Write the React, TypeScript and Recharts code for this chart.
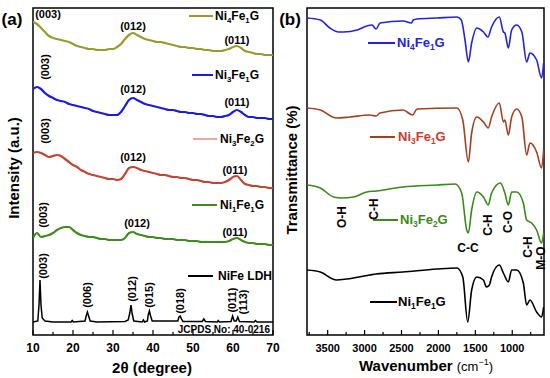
import { LineChart, Line, XAxis, YAxis, ReferenceArea } from "recharts";

const FONT = "'Liberation Sans', Arial, sans-serif";

// ---- (a) XRD ----
const xrdAngles = [
  10, 11, 12, 13, 14, 15, 16, 17, 18, 19, 20, 21, 22, 23, 24, 25, 26, 27, 28, 29, 30,
  31, 32, 33, 34, 35, 36, 37, 38, 39, 40, 41, 42, 43, 44, 45, 46, 47, 48, 49, 50,
  51, 52, 53, 54, 55, 56, 57, 58, 59, 60, 61, 62, 63, 64, 65, 66, 67, 68, 69, 70,
];
const ni4fe1gXrd = [
  313, 311, 307, 303, 299, 297, 296, 295, 294, 293, 291, 289, 288, 287, 286, 286, 285, 285, 285, 286, 286,
  288, 291, 296, 300, 302, 300, 298, 296, 295, 294, 293, 293, 292, 291, 290, 289, 288, 288, 287, 287,
  286, 286, 285, 285, 284, 284, 284, 285, 286, 288, 289, 287, 284, 283, 282, 281, 281, 280, 280, 280,
];
const ni3fe1gXrd = [
  246, 248, 246, 242, 239, 237, 235, 234, 233, 231, 230, 229, 228, 227, 226, 224, 223, 222, 221, 220, 220,
  220, 223, 229, 235, 237, 235, 233, 231, 230, 229, 228, 227, 226, 225, 225, 224, 223, 223, 222, 222,
  221, 221, 220, 219, 219, 218, 218, 219, 220, 223, 225, 223, 220, 218, 218, 217, 217, 217, 216, 216,
];
const ni3fe2gXrd = [
  182, 183, 182, 180, 178, 179, 180, 179, 176, 173, 170, 168, 165, 163, 161, 160, 159, 158, 157, 156, 156,
  155, 156, 161, 167, 168, 167, 165, 164, 163, 162, 161, 160, 160, 159, 158, 158, 157, 157, 156, 155,
  155, 154, 153, 153, 152, 152, 152, 153, 155, 158, 159, 155, 151, 150, 149, 149, 148, 148, 147, 147,
];
const ni1fe1gXrd = [
  97, 102, 98, 99, 100, 102, 105, 107, 108, 108, 105, 102, 100, 99, 98, 98, 97, 96, 96, 95, 95,
  95, 95, 97, 102, 103, 101, 100, 99, 98, 98, 97, 97, 96, 96, 96, 95, 95, 95, 94, 94,
  94, 93, 93, 93, 93, 93, 93, 93, 94, 96, 97, 95, 93, 92, 92, 91, 91, 91, 90, 90,
];
const nifeLdhXrd: [number, number][] = [
  [10, 13], [11.2, 14], [11.5, 30], [11.75, 55], [12.0, 30], [12.3, 17], [13, 14], [15, 13],
  [19.5, 13], [19.8, 14.5], [20.1, 13], [23, 14], [23.3, 19], [23.6, 23], [23.9, 19], [24.3, 14],
  [26, 13], [33, 13.5], [33.8, 15], [34.2, 22], [34.5, 30], [34.8, 21], [35.2, 14], [37.3, 13],
  [37.6, 15], [37.9, 13], [38.6, 14], [38.8, 20], [39.1, 24], [39.4, 19], [39.8, 14], [46.2, 14],
  [46.5, 18], [46.8, 19], [47.1, 16], [47.5, 13.5], [52.3, 13.5], [52.7, 16], [53.1, 13.5],
  [56.1, 13], [56.3, 14.5], [56.6, 13], [59.5, 13.5], [59.9, 19], [60.3, 14], [60.8, 14],
  [61.2, 18], [61.6, 13.5], [65.3, 13], [65.6, 14.5], [66, 13], [70, 13],
];
const xrdTicks = [10, 15, 20, 25, 30, 35, 40, 45, 50, 55, 60, 65, 70];

// ---- (b) FTIR ----
const ni4fe1gFtir: [number, number][] = [
  [3780, 317], [3600, 315], [3470, 307], [3350, 303], [3290, 303], [3100, 305], [2970, 309],
  [2900, 310], [2845, 306], [2790, 312], [2480, 314], [2365, 312], [2340, 315], [2290, 316],
  [2020, 317], [1750, 318], [1690, 315], [1640, 295], [1595, 273], [1550, 292], [1480, 307],
  [1390, 303], [1330, 298], [1280, 308], [1175, 318], [1120, 303], [1100, 302], [1053, 287],
  [1008, 305], [940, 310], [870, 303], [805, 273], [760, 282], [670, 275], [603, 257], [575, 272],
];
const ni3fe1gFtir: [number, number][] = [
  [3780, 227], [3600, 225], [3380, 217], [3200, 218], [2930, 220], [2845, 219], [2790, 222],
  [2480, 225], [2350, 220], [2290, 226], [1750, 227], [1670, 215], [1595, 173], [1550, 202],
  [1480, 218], [1390, 213], [1325, 207], [1280, 218], [1175, 232], [1120, 213], [1100, 215],
  [1053, 200], [1008, 218], [940, 226], [870, 218], [805, 180], [760, 192], [670, 183],
  [603, 167], [575, 185],
];
const ni3fe2gFtir: [number, number][] = [
  [3780, 150], [3600, 147], [3420, 138], [3310, 137], [3150, 138], [2970, 143], [2840, 144],
  [2480, 148], [2020, 150], [1775, 151], [1685, 142], [1617, 105], [1595, 102], [1550, 125],
  [1480, 143], [1390, 138], [1325, 130], [1280, 142], [1160, 152], [1100, 142], [1053, 130],
  [1008, 143], [940, 143], [850, 132], [805, 115], [738, 112], [670, 105], [603, 92], [575, 102],
];
const ni1fe1gFtir: [number, number][] = [
  [3780, 65], [3600, 63], [3380, 55], [3240, 56], [2930, 60], [2840, 61], [2480, 63],
  [2020, 66], [1750, 67], [1670, 58], [1603, 13], [1550, 45], [1480, 58], [1390, 55],
  [1350, 48], [1310, 50], [1280, 58], [1175, 70], [1120, 62], [1053, 53], [1008, 65],
  [940, 65], [850, 52], [805, 30], [760, 35], [670, 23], [603, 18], [575, 28],
];
const ftirTicks = [3750, 3500, 3250, 3000, 2750, 2500, 2250, 2000, 1750, 1500, 1250, 1000, 750];

const toPoints = (pairs: [number, number][]) => pairs.map(([x, y]) => ({ x, y }));
const fromAngles = (vals: number[]) => xrdAngles.map((x, i) => ({ x, y: vals[i] }));

const xrdLines = [
  { key: "ni4", color: "#9b9b2c", data: fromAngles(ni4fe1gXrd), w: 2.2, type: "monotone" },
  { key: "ni3", color: "#1a1ae6", data: fromAngles(ni3fe1gXrd), w: 2.2, type: "monotone" },
  { key: "ni32", color: "#c4452f", data: fromAngles(ni3fe2gXrd), w: 2.2, type: "monotone" },
  { key: "ni1", color: "#3d8c1c", data: fromAngles(ni1fe1gXrd), w: 2.2, type: "monotone" },
  { key: "ldh", color: "#000000", data: toPoints(nifeLdhXrd), w: 1.5, type: "linear" },
];
const ftirLines = [
  { key: "ni4", color: "#2323dd", data: toPoints(ni4fe1gFtir) },
  { key: "ni3", color: "#a3411f", data: toPoints(ni3fe1gFtir) },
  { key: "ni32", color: "#3a8a18", data: toPoints(ni3fe2gFtir) },
  { key: "ni1", color: "#000000", data: toPoints(ni1fe1gFtir) },
];

const makeTick = (isMajor: (v: number) => boolean, fontSize: number) => (props: any) => {
  const { x, y, payload } = props;
  const major = isMajor(payload.value);
  return (
    <g>
      <line x1={x} y1={y} x2={x} y2={y - (major ? 5 : 3)} stroke="#000" strokeWidth={1.2} />
      {major && (
        <text x={x} y={y + 17} textAnchor="middle" fontSize={fontSize} fontWeight="bold" fontFamily={FONT} fill="#000">
          {payload.value}
        </text>
      )}
    </g>
  );
};

const Formula = ({ x, y, a, b, color = "#000", size = 12 }: any) => (
  <text x={x} y={y} fontSize={size} fontWeight="bold" fontFamily={FONT} fill={color}>
    Ni<tspan fontSize={size * 0.65} dy={3}>{a}</tspan>
    <tspan dy={-3}>Fe</tspan>
    <tspan fontSize={size * 0.65} dy={3}>{b}</tspan>
    <tspan dy={-3}>G</tspan>
  </text>
);

const Rot = ({ x, y, t, size = 11 }: any) => (
  <text x={x} y={y} transform={`rotate(-90 ${x} ${y})`} textAnchor="middle" dominantBaseline="central"
    fontSize={size} fontWeight="bold" fontFamily={FONT}>{t}</text>
);
const Lbl = ({ x, y, t, size = 11 }: any) => (
  <text x={x} y={y} textAnchor="middle" dominantBaseline="central" fontSize={size} fontWeight="bold" fontFamily={FONT}>{t}</text>
);

export default function App() {
  return (
    <div style={{ position: "absolute", left: 0, top: 0, width: 550, height: 378, background: "#fff", fontFamily: FONT }}>
      <div style={{ position: "absolute", left: 0, top: 0 }}>
        <LineChart width={280} height={378} margin={{ top: 8, right: 7, bottom: 13, left: 33 }}>
          <XAxis type="number" dataKey="x" domain={[10, 70]} ticks={xrdTicks} interval={0} axisLine={false} tickLine={false}
            tickSize={0} tickMargin={0} height={30} tick={makeTick((v) => v % 10 === 0, 12)} allowDataOverflow />
          <YAxis type="number" domain={[0, 327]} hide allowDataOverflow />
          <ReferenceArea x1={10} x2={70} y1={0} y2={327} fill="none" stroke="#000" strokeWidth={1.5} />
          {xrdLines.map((s) => (
            <Line key={s.key} data={s.data} dataKey="y" type={s.type as any} stroke={s.color} strokeWidth={s.w}
              dot={false} isAnimationActive={false} />
          ))}
        </LineChart>
      </div>
      <div style={{ position: "absolute", left: 280, top: 0 }}>
        <LineChart width={270} height={378} margin={{ top: 8, right: 6, bottom: 13, left: 27 }}>
          <XAxis type="number" dataKey="x" domain={[570, 3780]} reversed ticks={ftirTicks} interval={0} axisLine={false}
            tickLine={false} tickSize={0} tickMargin={0} height={30} tick={makeTick((v) => v % 500 === 0, 11)} allowDataOverflow />
          <YAxis type="number" domain={[0, 327]} hide allowDataOverflow />
          <ReferenceArea x1={570} x2={3780} y1={0} y2={327} fill="none" stroke="#000" strokeWidth={1.5} />
          {ftirLines.map((s) => (
            <Line key={s.key} data={s.data} dataKey="y" type="monotone" stroke={s.color} strokeWidth={1.6}
              dot={false} isAnimationActive={false} />
          ))}
        </LineChart>
      </div>
      <svg width={550} height={378} style={{ position: "absolute", left: 0, top: 0, pointerEvents: "none" }}>
        {/* panel letters */}
        <Lbl x={12} y={19} t="(a)" size={17} />
        <Lbl x={290} y={19} t="(b)" size={17} />

        {/* axis titles */}
        <Lbl x={152} y={367} t="2θ (degree)" size={15} />
        <text x={13} y={168} transform="rotate(-90 13 168)" textAnchor="middle" dominantBaseline="central"
          fontSize={15} fontWeight="bold" fontFamily={FONT}>Intensity (a.u.)</text>
        <text x={291} y={170} transform="rotate(-90 291 170)" textAnchor="middle" dominantBaseline="central"
          fontSize={15} fontWeight="bold" fontFamily={FONT}>Transmittance (%)</text>
        <text x={426} y={371} textAnchor="middle" fontFamily={FONT} fill="#000">
          <tspan fontSize={15} fontWeight="bold">Wavenumber </tspan>
          <tspan fontSize={13}>(cm</tspan>
          <tspan fontSize={9} dy={-6}>−1</tspan>
          <tspan fontSize={13} dy={6}>)</tspan>
        </text>

        {/* (a) peak labels */}
        <Lbl x={48} y={14} t="(003)" />
        <Lbl x={133} y={26} t="(012)" />
        <Lbl x={237} y={40} t="(011)" />
        <Rot x={45} y={67} t="(003)" />
        <Lbl x={133} y={89} t="(012)" />
        <Lbl x={237} y={102} t="(011)" />
        <Rot x={45} y={131} t="(003)" />
        <Lbl x={133} y={157} t="(012)" />
        <Lbl x={235} y={170} t="(011)" />
        <Rot x={43} y={215} t="(003)" />
        <Lbl x={137} y={223} t="(012)" />
        <Lbl x={235} y={232} t="(011)" />
        <Rot x={43} y={266} t="(003)" />
        <Rot x={87} y={295} t="(006)" />
        <Rot x={132} y={289} t="(012)" />
        <Rot x={149} y={295} t="(015)" />
        <Rot x={180} y={301} t="(018)" />
        <Rot x={232} y={300} t="(011)" />
        <Rot x={243} y={302} t="(113)" />
        <text x={270} y={333} textAnchor="end" fontSize={10} fontWeight="bold" fontFamily={FONT}>JCPDS No: 40-0216</text>

        {/* (a) legends */}
        <line x1={189} y1={16} x2={213} y2={16} stroke="#9b9b2c" strokeWidth={2} />
        <Formula x={215} y={20} a="4" b="1" />
        <line x1={192} y1={75} x2={213} y2={75} stroke="#1a1ae6" strokeWidth={2} />
        <Formula x={215} y={79} a="3" b="1" />
        <line x1={193} y1={139} x2={217} y2={139} stroke="#eaa5a5" strokeWidth={2} />
        <Formula x={220} y={143} a="3" b="2" />
        <line x1={192} y1={205} x2={217} y2={205} stroke="#3d8c1c" strokeWidth={2} />
        <Formula x={220} y={209} a="1" b="1" />
        <line x1={188} y1={276} x2={213} y2={276} stroke="#000" strokeWidth={2} />
        <text x={218} y={280} fontSize={12} fontWeight="bold" fontFamily={FONT}>NiFe LDH</text>

        {/* (b) legends */}
        <line x1={368} y1={43} x2={395} y2={43} stroke="#2323dd" strokeWidth={2} />
        <Formula x={397} y={47} a="4" b="1" color="#2323dd" size={13} />
        <line x1={370} y1={137} x2={395} y2={137} stroke="#a3411f" strokeWidth={2} />
        <Formula x={398} y={141} a="3" b="1" color="#d03a2a" size={13} />
        <line x1={373} y1={220} x2={398} y2={220} stroke="#3a8a18" strokeWidth={2} />
        <Formula x={400} y={224} a="3" b="2" color="#3a8a18" size={13} />
        <line x1={370} y1={302} x2={397} y2={302} stroke="#000" strokeWidth={2} />
        <Formula x={398} y={306} a="1" b="1" size={13} />

        {/* (b) band labels */}
        <Rot x={342} y={217} t="O-H" size={12} />
        <Rot x={374} y={209} t="C-H" size={12} />
        <Lbl x={468} y={248} t="C-C" size={12} />
        <Rot x={488} y={225} t="C-H" size={12} />
        <Rot x={508} y={222} t="C-O" size={12} />
        <Rot x={528} y={247} t="C-H" size={12} />
        <Rot x={541} y={258} t="M-O" size={12} />
      </svg>
    </div>
  );
}
